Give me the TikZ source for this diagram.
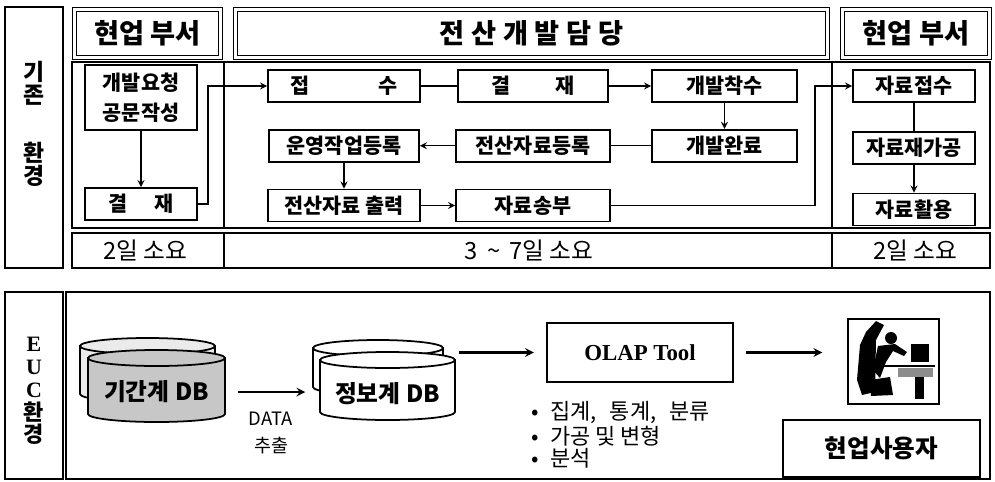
\documentclass[tikz,border=0pt]{standalone}
\usepackage{fontspec}
\setmainfont{Noto Sans CJK KR}
\newfontfamily\serifbf{Liberation Serif}
\usetikzlibrary{arrows,positioning}

% one drum of a database, drawn from the centre of its top rim
\tikzset{
  pics/can/.style n args={3}{code={
    \filldraw[fill=#3, line width=1pt] (-#1,0) -- (-#1,#2)
      arc[start angle=180, end angle=0, x radius=#1, y radius=8] -- (#1,0) -- cycle;
    \filldraw[fill=#3, line width=1pt] (0,0) ellipse [x radius=#1, y radius=8];
  }}
}

\begin{document}
\begin{tikzpicture}[
	x=0.02cm, y=-0.02cm, % one unit per pixel, downwards
	> = stealth, % arrow head style
	thick,
	node distance = 0.52cm,
	frame/.style={line width=0.9pt},
	hdr/.style={draw, line width=0.7pt, double, double distance=1.3pt, minimum height=0.96cm, font=\bfseries\fontsize{15.5}{17}\selectfont},
	stepbox/.style={draw, line width=1pt, minimum height=0.64cm, inner sep=1pt, font=\bfseries\fontsize{11.8}{13}\selectfont},
	days/.style={font=\fontsize{13.5}{15}\selectfont},
	side/.style={align=center, font=\bfseries\fontsize{13}{13}\selectfont},
	]
	\useasboundingbox (0,0) rectangle (995,481);

	% upper part: frames
	\draw[frame] (5,7) rectangle (63,268);
	\draw[frame] (72,62) rectangle (990,228);
	\draw[frame] (224,62) -- (224,228);
	\draw[frame] (832,62) -- (832,228);
	\draw[frame] (72,233) rectangle (990,268);
	\draw[frame] (224,233) -- (224,268);
	\draw[frame] (832,233) -- (832,268);

	\node[side] (old) at (34,124) {기\\존\\[20pt]환\\경};

	% column heads
	\node[hdr, minimum width=2.92cm] (dept1) at (147.5,33.5) {현업 부서};
	\node[hdr, minimum width=11.84cm] (it) at (531.5,33.5) {전\hspace{0.25em}산\hspace{0.25em}개\hspace{0.25em}발\hspace{0.25em}담\hspace{0.25em}당};
	\node[hdr, minimum width=2.94cm] (dept2) at (916,33.5) {현업 부서};

	% requesting department
	\node[stepbox, minimum width=2.24cm, minimum height=1.3cm, align=center, font=\bfseries\fontsize{11.8}{17}\selectfont] (req) at (141,97.5) {개발요청\\공문작성};
	\node[stepbox, minimum width=2.24cm] (sign1) at (141,204) {결\hspace{1.3em}재};

	% development team
	\node[stepbox, minimum width=3.04cm] (recpt) at (344,86) {접\hspace{3.3em}수};
	\node[stepbox, minimum width=3cm] (sign2) at (533,86) {결\hspace{2.2em}재};
	\node[stepbox, minimum width=2.9cm] (devstart) at (724.5,86) {개발착수};
	\node[stepbox, minimum width=2.9cm] (devdone) [below=of devstart] {개발완료};
	\node[stepbox, minimum width=3.08cm] (regdata) [below=of sign2] {전산자료등록};
	\node[stepbox, minimum width=3cm] (opreg) [below=of recpt] {운영작업등록};
	\node[stepbox, minimum width=3.04cm] (print) [below=of opreg] {전산자료 출력};
	\node[stepbox, minimum width=3.08cm] (send) [below=of regdata] {자료송부};

	% receiving department
	\node[stepbox, minimum width=2.44cm] (recv) at (914,86) {자료접수};
	\node[stepbox, minimum width=2.44cm] (rework) [below=0.56cm of recv] {자료재가공};
	\node[stepbox, minimum width=2.44cm] (apply) [below=0.56cm of rework] {자료활용};

	% flow
	\draw[->] (req) -- (sign1);
	\draw[->] (sign1.east) -- ++(10,0) |- (recpt.west);
	\draw (recpt) -- (sign2);
	\draw[->] (sign2) -- (devstart);
	\draw[->] (devstart) -- (devdone);
	\draw (devdone) -- (regdata);
	\draw[->] (regdata) -- (opreg);
	\draw[->] (opreg) -- (print);
	\draw[->] (print) -- (send);
	\draw[->] (send.east) -- ++(204,0) |- (recv.west);
	\draw (recv) -- (rework);
	\draw[->] (rework) -- (apply);

	% time taken
	\node[days] (d1) at (145,250.5) {2일 소요};
	\node[days] (d2) at (529,250.5) {3\hspace{0.4em}\~{}\hspace{0.4em}7일 소요};
	\node[days] (d3) at (915,250.5) {2일 소요};

	% lower part: frames
	\draw[frame] (5,292) rectangle (63,479);
	\draw[frame] (66,292) rectangle (990,479);
	\node[align=center, font=\bfseries\fontsize{12.5}{13}\selectfont] (euc) at (34,391) {\serifbf E\\\serifbf U\\\serifbf C\\환\\경};

	% databases
	\pic at (147.5,346) {can={67.5}{48}{black!8}};
	\pic at (156.5,358) {can={68.5}{56}{black!22}};
	\pic at (378,348) {can={65}{39}{white}};
	\pic at (387.5,360) {can={67.5}{52}{white}};
	\node[minimum width=2.74cm, font=\bfseries\fontsize{13.5}{15}\selectfont] (core) at (156.5,392) {기간계 DB};
	\node[minimum width=2.7cm, font=\bfseries\fontsize{13.5}{15}\selectfont] (info) at (387.5,394) {정보계 DB};
	\node[align=center, font=\fontsize{10.5}{15}\selectfont] (extract) at (271,433) {DATA\\추출};

	\node[draw, line width=1pt, minimum width=3.72cm, minimum height=1.18cm, font=\serifbf\bfseries\fontsize{13}{15}\selectfont] (olap) at (640,352.5) {OLAP Tool};
	\node[anchor=north west, align=left, inner sep=0pt, font=\fontsize{12.5}{12.6}\selectfont] (olapuse) at (531,401) {•\hspace{0.5em}집계,\hspace{0.6em}통계,\hspace{0.6em}분류\\•\hspace{0.5em}가공 및 변형\\•\hspace{0.5em}분석};

	% end user at the terminal
	\node[draw, line width=1.2pt, minimum width=1.82cm, minimum height=1.7cm] (pc) at (893.5,361.5) {};
	\fill (860,345) -- (866,332) -- (876,321) -- (884,325) -- (876,340) -- (875,392) -- (862,395) -- (857,380) -- cycle;
	\fill (891,338) circle [radius=6];
	\fill (878,346) -- (895,344) -- (907,352) -- (904,356) -- (893,351) -- (886,362) -- (880,378) -- (873,370) -- cycle;
	\fill (870,380) -- (890,377) -- (893,395) -- (871,396) -- cycle;
	\fill (911,344) rectangle (929,362);
	\draw[line width=0.8pt] (868,366) -- (935,366);
	\fill[black!45] (898,368) rectangle (933,377);
	\fill (915,377) rectangle (924,399);
	\node[draw, line width=1pt, minimum width=3.94cm, minimum height=1.14cm, font=\bfseries\fontsize{14}{16}\selectfont] (user) at (881.5,448.5) {현업사용자};

	\draw[->, line width=1.2pt, shorten <=7pt, shorten >=8pt] (core.east) -- (core.east -| info.west);
	\draw[->, line width=1.2pt, shorten <=2pt, shorten >=7pt] (olap.west -| info.east) -- (olap.west);
	\draw[->, line width=1.2pt, shorten <=7pt, shorten >=14pt] (olap.east) -- (olap.east -| pc.west);

\end{tikzpicture}
\end{document}
